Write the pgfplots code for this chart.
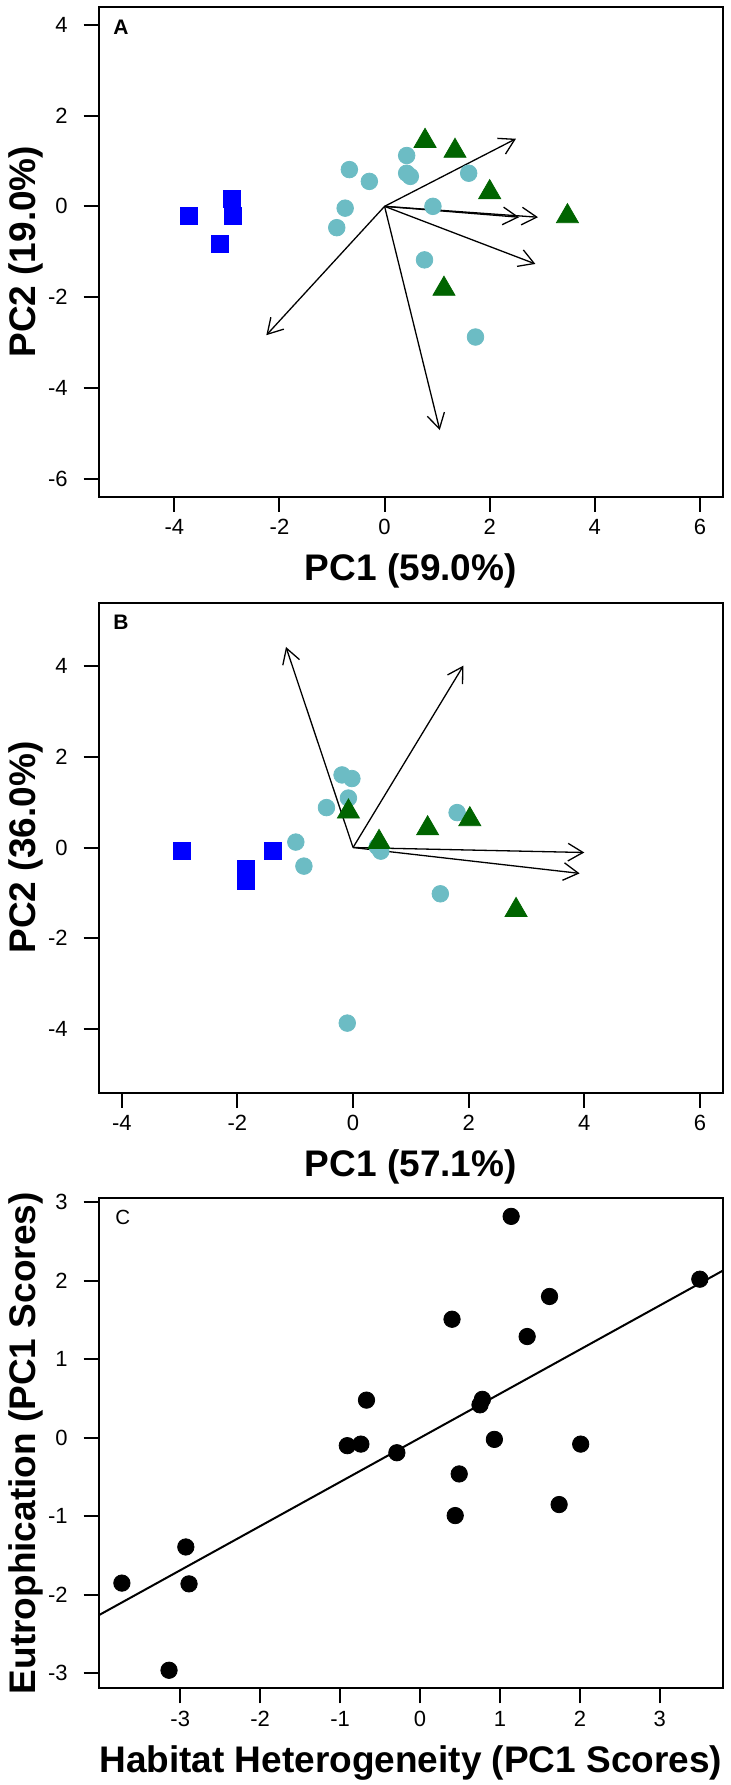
\documentclass[border=0pt]{standalone}
\usepackage{fontspec}
\setmainfont{Liberation Sans}
\usepackage{pgfplots}
\pgfplotsset{compat=1.18}
\usetikzlibrary{arrows.meta}
\definecolor{mycyan}{RGB}{108,188,196}
\definecolor{mygreen}{RGB}{0,100,0}
\definecolor{myblue}{RGB}{0,0,255}
\tikzset{plab/.style={anchor=north west, inner sep=0pt}}
\pgfplotsset{
  panel/.style={
    scale only axis, width=312.15pt, height=245pt,
    axis line style={line width=1pt},
    every tick/.style={black, line width=1pt},
    tick align=outside, major tick length=7.5pt,
    xtick pos=bottom, ytick pos=left,
    tick label style={font=\fontsize{11}{13}\selectfont},
    xticklabel style={anchor=base, yshift=-11.4pt},
    yticklabel style={anchor=east, inner sep=0pt, xshift=-7.85pt},
    label style={font=\bfseries\fontsize{18.5}{22}\selectfont},
    xlabel style={at={(axis description cs:0.5,-0.172)}, anchor=base},
    ylabel style={at={(axis description cs:-0.102,0.5)}, anchor=base},
    anchor=north west,
  },
  arr/.style={black, line width=0.65pt, -{Straight Barb[length=7.5pt,width=8.8pt]}},
  sq/.style={only marks, mark=square*, mark size=4.2pt, color=myblue},
  ci/.style={only marks, mark=*, mark size=4.15pt, color=mycyan},
  tr/.style={only marks, mark=triangle*, mark size=6.35pt, color=mygreen},
}
\begin{document}
\begin{tikzpicture}
% ---------------- Panel A ----------------
\begin{axis}[panel, at={(49.35pt,-3.35pt)},
  xmin=-5.44, xmax=6.44, ymin=-6.4, ymax=4.4,
  xtick={-4,-2,0,2,4,6}, xticklabels={-4,-2,0,2,4,6},
  ytick={-6,-4,-2,0,2,4}, yticklabels={-6,-4,-2,0,2,4},
  xlabel={PC1 (59.0\%)}, ylabel={PC2 (19.0\%)}]
\addplot[sq] coordinates {(-3.72,-0.21) (-2.91,0.16) (-2.89,-0.21) (-3.13,-0.82)};
\addplot[ci] coordinates {(-0.67,0.81) (-0.29,0.55) (-0.75,-0.04) (-0.91,-0.47)
  (0.42,1.12) (0.42,0.73) (0.49,0.66) (1.60,0.73) (0.92,0.0) (0.76,-1.18) (1.73,-2.88)};
\addplot[tr] coordinates {(0.77,1.44) (1.34,1.22) (2.00,0.31) (3.48,-0.22) (1.13,-1.82)};
\addplot[arr] coordinates {(0,0) (2.50,1.49)};
\addplot[arr] coordinates {(0,0) (2.56,-0.24)};
\addplot[arr] coordinates {(0,0) (2.92,-0.24)};
\addplot[arr] coordinates {(0,0) (2.87,-1.27)};
\addplot[arr] coordinates {(0,0) (-2.25,-2.84)};
\addplot[arr] coordinates {(0,0) (1.05,-4.93)};
\node[plab, font=\bfseries\fontsize{10.5}{12}\selectfont, xshift=7.15pt, yshift=-6.65pt] at (rel axis cs:0,1) {A};
\end{axis}
% ---------------- Panel B ----------------
\begin{axis}[panel, at={(49.35pt,-301.25pt)},
  xmin=-4.4, xmax=6.4, ymin=-5.4, ymax=5.4,
  xtick={-4,-2,0,2,4,6}, xticklabels={-4,-2,0,2,4,6},
  ytick={-4,-2,0,2,4}, yticklabels={-4,-2,0,2,4},
  xlabel={PC1 (57.1\%)}, ylabel={PC2 (36.0\%)}]
\addplot[sq] coordinates {(-2.96,-0.07) (-1.39,-0.07) (-1.85,-0.46) (-1.86,-0.73)};
\addplot[ci] coordinates {(-0.19,1.60) (-0.02,1.52) (-0.08,1.09) (-0.46,0.88) (-0.99,0.12)
  (-0.85,-0.41) (0.42,0.02) (0.48,-0.08) (1.80,0.77) (1.51,-1.02) (-0.10,-3.87)};
\addplot[tr] coordinates {(-0.08,0.79) (0.45,0.12) (1.29,0.42) (2.02,0.62) (2.82,-1.38)};
\addplot[arr] coordinates {(0,0) (-1.16,4.42)};
\addplot[arr] coordinates {(0,0) (1.91,4.01)};
\addplot[arr] coordinates {(0,0) (4.00,-0.11)};
\addplot[arr] coordinates {(0,0) (3.92,-0.57)};
\node[plab, font=\bfseries\fontsize{10.5}{12}\selectfont, xshift=7.15pt, yshift=-6.25pt] at (rel axis cs:0,1) {B};
\end{axis}
% ---------------- Panel C ----------------
\begin{axis}[panel, at={(49.35pt,-599.15pt)},
  xmin=-4.02, xmax=3.79, ymin=-3.19, ymax=3.05,
  xtick={-3,-2,-1,0,1,2,3}, xticklabels={-3,-2,-1,0,1,2,3},
  ytick={-3,-2,-1,0,1,2,3}, yticklabels={-3,-2,-1,0,1,2,3},
  xlabel={Habitat Heterogeneity (PC1 Scores)}, ylabel={Eutrophication (PC1 Scores)}]
\addplot[only marks, mark=*, mark size=4.1pt, black] coordinates {
  (-3.73,-1.85) (-2.93,-1.39) (-2.89,-1.86) (-3.14,-2.96)
  (-0.91,-0.10) (-0.74,-0.08) (-0.67,0.48) (-0.29,-0.19)
  (0.40,1.51) (0.44,-0.99) (0.49,-0.46) (0.75,0.42) (0.78,0.49) (0.93,-0.02)
  (1.14,2.82) (1.34,1.29) (1.62,1.80) (1.74,-0.85) (2.01,-0.08) (3.50,2.02)};
\addplot[black, line width=1pt] coordinates {(-4.2,-2.361) (4.0,2.248)};
\node[plab, font=\fontsize{10.25}{12}\selectfont, xshift=8.15pt, yshift=-5.85pt] at (rel axis cs:0,1) {C};
\end{axis}
\pgfresetboundingbox
\path[use as bounding box] (0,0) rectangle (365.5pt,-892.5pt);
\end{tikzpicture}
\end{document}
